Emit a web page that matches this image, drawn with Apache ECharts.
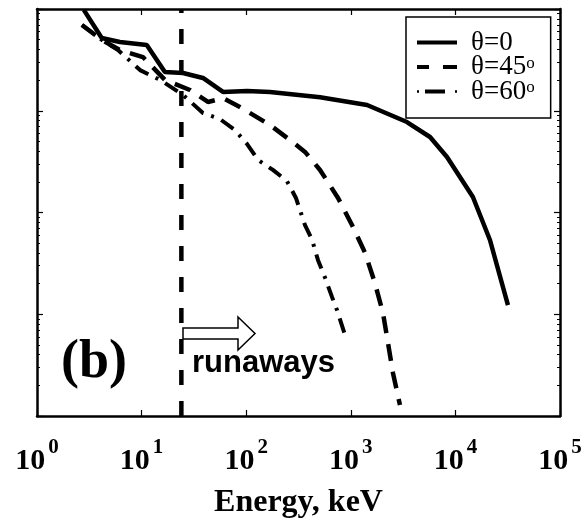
<!DOCTYPE html>
<html><head><meta charset="utf-8">
<script src="https://cdn.jsdelivr.net/npm/echarts@6/dist/echarts.min.js"></script>
<style>html,body{margin:0;padding:0;background:#fff}#c{width:585px;height:518px}</style>
</head><body><div id="c"></div>
<script>
// ---- data ----
const seriesNames = ['θ=0', 'θ=45', 'θ=60'];
const energy0 = [2.8, 4.16, 6.2, 11.2, 16.7, 24.9, 38.6, 60, 102, 169, 508, 1430, 3440, 5720, 8310, 14700, 21400, 31800];
const flux0   = [9800, 5190, 4740, 4430, 2400, 2350, 2100, 1530, 1560, 1530, 1360, 1140, 775, 552, 351, 142, 53.7, 12.3];
const energy45 = [2.69, 4.18, 6.2, 10.3, 16.7, 29, 43.1, 60, 87, 169, 262, 365, 508, 755, 1030, 1370, 1700, 2030, 2270, 2530, 2950];
const flux45   = [6960, 4960, 3950, 3370, 2010, 1600, 1220, 1330, 1090, 724, 516, 394, 262, 139, 75, 40, 20.3, 10.3, 5.2, 2.65, 1.28];
const energy60 = [2.69, 4.18, 5.95, 9.66, 15, 24.9, 38.6, 56, 78, 102, 130, 180, 245, 299, 365, 426, 486, 566, 661, 738, 881];
const flux60   = [6960, 4960, 3950, 2510, 2010, 1430, 950, 830, 647, 471, 328, 262, 204, 139, 75, 54, 34, 23, 14.8, 11, 6.25];
const runawayThreshold = 24;   // keV, vertical dashed line
const xTickExponents = [0, 1, 2, 3, 4, 5];
const yRange = [1, 10000];

const zip = (a, b) => a.map((v, i) => [v, b[i]]);
const chart = echarts.init(document.getElementById('c'), null, {renderer: 'canvas'});

const serif = 'Liberation Serif';
const axisLine = {show: true, lineStyle: {color: '#000', width: 2.5}};
const legendIcons = [
  'path://M0,0H40V4H0Z',
  'path://M0,0H12V4H0ZM26,0H40V4H26Z',
  'path://M0,0.8H2V3.2H0ZM8,0H28V4H8ZM38,0.8H40V3.2H38Z'
];

const option = {
  animation: false,
  backgroundColor: '#fff',
  grid: {left: 37, right: 25, top: 9, bottom: 102, containLabel: false, outerBoundsMode: 'none'},
  legend: {
    orient: 'vertical', left: 406, top: 17,
    padding: [12, 16, 13, 11],
    borderColor: '#000', borderWidth: 1.5, backgroundColor: '#fff',
    itemWidth: 40, itemHeight: 4.5, itemGap: -2.5,
    data: seriesNames.map((n, i) => ({name: n, icon: legendIcons[i], itemStyle: {color: '#000'}})),
    formatter: n => '{t|' + n + '}' + (n === 'θ=0' ? '' : '{s|o}'),
    textStyle: {
      fontFamily: serif, fontSize: 27, color: '#000', padding: [0, 0, 0, 9], lineHeight: 24.5,
      rich: {
        t: {fontFamily: serif, fontSize: 27, color: '#000', lineHeight: 24.5},
        s: {fontFamily: serif, fontSize: 17, color: '#000', lineHeight: 12, verticalAlign: 'top'}
      }
    }
  },
  xAxis: [{
    type: 'log', logBase: 10, min: Math.pow(10, xTickExponents[0]), max: Math.pow(10, xTickExponents[xTickExponents.length - 1]),
    position: 'bottom',
    axisLine: axisLine,
    axisTick: {show: true, inside: true, length: 6, lineStyle: {color: '#000', width: 1.2}},
    minorTick: {show: false},
    splitLine: {show: false},
    axisLabel: {
      margin: 21,
      formatter: v => '{b|10}{s|' + Math.round(Math.log10(v)) + '}',
      rich: {
        b: {fontFamily: serif, fontWeight: 'bold', fontSize: 30, color: '#000', verticalAlign: 'bottom'},
        s: {fontFamily: serif, fontWeight: 'bold', fontSize: 21, color: '#000', padding: [0, 0, 18, 3], verticalAlign: 'bottom'}
      }
    },
    name: 'Energy, keV', nameLocation: 'middle', nameGap: 71, nameMoveOverlap: false,
    nameTextStyle: {fontFamily: serif, fontWeight: 'bold', fontSize: 32, color: '#000'}
  }, {
    type: 'log', logBase: 10, min: 1, max: 1e5, position: 'top',
    axisLine: axisLine,
    axisTick: {show: true, inside: true, length: 6, lineStyle: {color: '#000', width: 1.2}},
    axisLabel: {show: false}, splitLine: {show: false}
  }],
  yAxis: [{
    type: 'log', logBase: 10, min: yRange[0], max: yRange[1], position: 'left',
    axisLine: axisLine,
    axisTick: {show: true, inside: true, length: 6, lineStyle: {color: '#000', width: 1.2}},
    minorTick: {show: true, splitNumber: 9, length: 3, lineStyle: {color: '#000', width: 1}},
    axisLabel: {show: false}, splitLine: {show: false}
  }, {
    type: 'log', logBase: 10, min: yRange[0], max: yRange[1], position: 'right',
    axisLine: axisLine,
    axisTick: {show: true, inside: true, length: 6, lineStyle: {color: '#000', width: 1.2}},
    minorTick: {show: true, splitNumber: 9, length: 3, lineStyle: {color: '#000', width: 1}},
    axisLabel: {show: false}, splitLine: {show: false}
  }],
  series: [
    {name: seriesNames[0], type: 'line', symbol: 'none', data: zip(energy0, flux0),
     lineStyle: {color: '#000', width: 4.5, type: 'solid'}, itemStyle: {color: '#000'}, z: 5},
    {name: seriesNames[1], type: 'line', symbol: 'none', data: zip(energy45, flux45),
     lineStyle: {color: '#000', width: 4.5, type: [17, 11]}, itemStyle: {color: '#000'}, z: 4},
    {name: seriesNames[2], type: 'line', symbol: 'none', data: zip(energy60, flux60),
     lineStyle: {color: '#000', width: 4, type: [15, 8, 3, 8]}, itemStyle: {color: '#000'}, z: 4},
    {name: 'threshold', type: 'line', symbol: 'none', data: [[runawayThreshold, yRange[0]], [runawayThreshold, yRange[1]]],
     lineStyle: {color: '#000', width: 4.5, type: [15, 16]}, itemStyle: {color: '#000'}, z: 3}
  ],
  graphic: [
    {type: 'text', left: 61, top: 336, style: {text: '(b)', fontFamily: serif, fontWeight: 'bold', fontSize: 54, fill: '#000'}},
    {type: 'text', left: 192, top: 348, style: {text: 'runaways', fontFamily: 'Liberation Sans', fontWeight: 'bold', fontSize: 31, fill: '#000'}},
    {type: 'polygon', shape: {points: [[183, 328], [238, 328], [238, 317], [255, 333.5], [238, 350], [238, 339], [183, 339]]},
     style: {fill: '#fff', stroke: '#000', lineWidth: 1.5}, z: 10}
  ]
};
chart.setOption(option);
</script>
</body></html>
